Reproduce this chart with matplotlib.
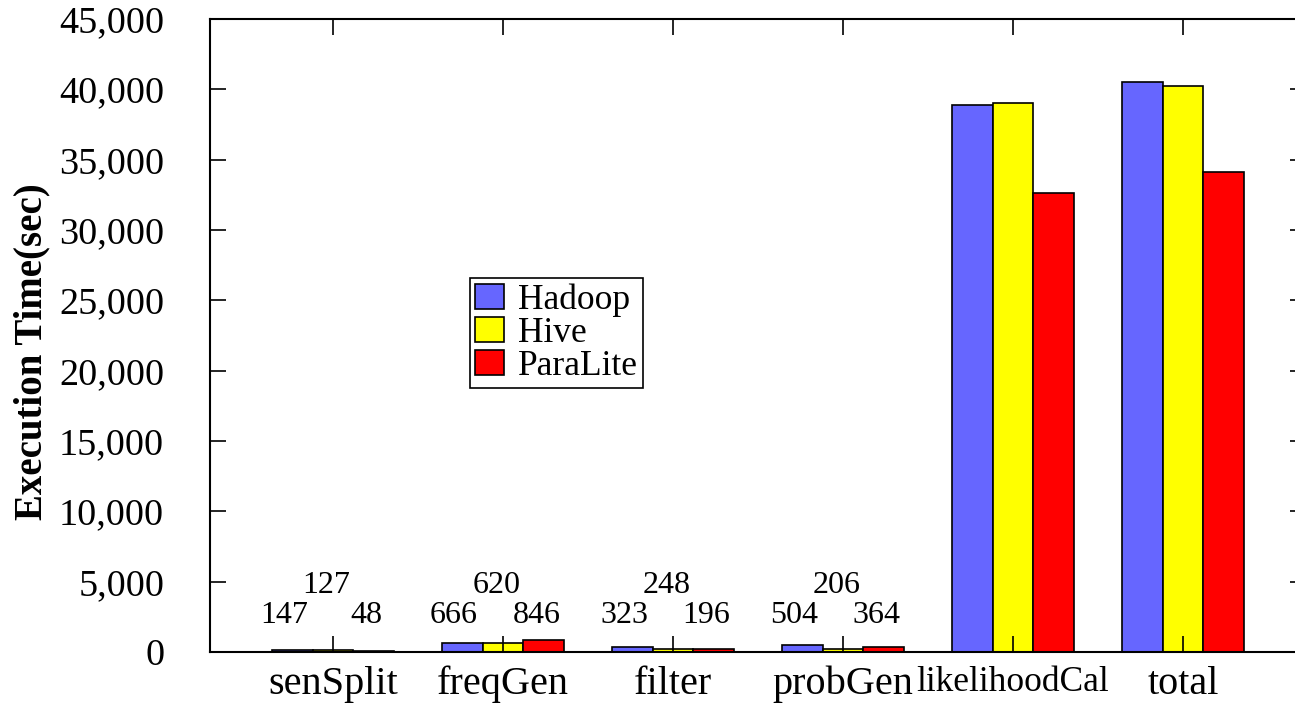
import numpy as np
import matplotlib
matplotlib.use("Agg")
import matplotlib.pyplot as plt
from matplotlib.ticker import FuncFormatter

plt.rcParams['font.family'] = ['Liberation Serif', 'DejaVu Serif']

# data
stages = ['senSplit', 'freqGen', 'filter', 'probGen', 'likelihoodCal', 'total']
hadoop = [147, 666, 323, 504, 38880, 40510]
hive = [127, 620, 248, 206, 39020, 40230]
paralite = [48, 846, 196, 364, 32610, 34100]
yticks = [0, 5000, 10000, 15000, 20000, 25000, 30000, 35000, 40000, 45000]

fig = plt.figure(figsize=(12.95, 7.04), dpi=100)
ax = fig.add_axes([210 / 1295, 1 - 652 / 704, 1096 / 1295, 633 / 704])

x = np.arange(len(stages))
w = 0.238
series = [('Hadoop', hadoop, '#6666ff'), ('Hive', hive, '#ffff00'), ('ParaLite', paralite, '#ff0000')]
for i, (name, vals, col) in enumerate(series):
    ax.bar(x + (i - 1) * w, vals, w, color=col, edgecolor='black', linewidth=1.2, label=name)

# value labels for the small stages (first four groups)
low_y, high_y = 2065, 4201
for k in range(4):
    ax.text(x[k] - w - 0.05, low_y, str(hadoop[k]), ha='center', va='baseline', fontsize=23)
    ax.text(x[k] - 0.04, high_y, str(hive[k]), ha='center', va='baseline', fontsize=23)
    ax.text(x[k] + w - 0.04, low_y, str(paralite[k]), ha='center', va='baseline', fontsize=23)

ax.set_xlim(-0.724, len(stages) - 1 + 0.724)
ax.set_ylim(0, 45000)
ax.set_yticks(yticks)
ax.yaxis.set_major_formatter(FuncFormatter(lambda v, p: f"{int(v):,}"))
ax.set_xticks(x)
ax.set_xticklabels(stages)
for lab in ax.get_xticklabels():
    lab.set_fontsize(25.5 if lab.get_text() == 'likelihoodCal' else 29)

ax.tick_params(axis='y', direction='in', length=11.5, width=1.2, labelsize=27.5, pad=33,
               left=True, right=True)
ax.tick_params(axis='x', direction='in', length=11.5, width=1.2, pad=10,
               top=True, bottom=True)
for s in ax.spines.values():
    s.set_linewidth(1.5)

ax.set_ylabel('Execution Time(sec)', fontsize=28, fontweight='bold')
ax.yaxis.set_label_coords(50 / 1295, 0.5, transform=fig.transFigure)

leg = ax.legend(loc='upper left', bbox_to_anchor=(470 / 1295, 1 - 278 / 704),
                bbox_transform=fig.transFigure, borderaxespad=0, fontsize=25.5,
                fancybox=False, edgecolor='black', framealpha=1,
                handlelength=0.8, handleheight=0.7, handletextpad=0.4,
                labelspacing=0.0, borderpad=0.15)
leg.get_frame().set_linewidth(1.2)

fig.savefig('out.png', dpi=100)
